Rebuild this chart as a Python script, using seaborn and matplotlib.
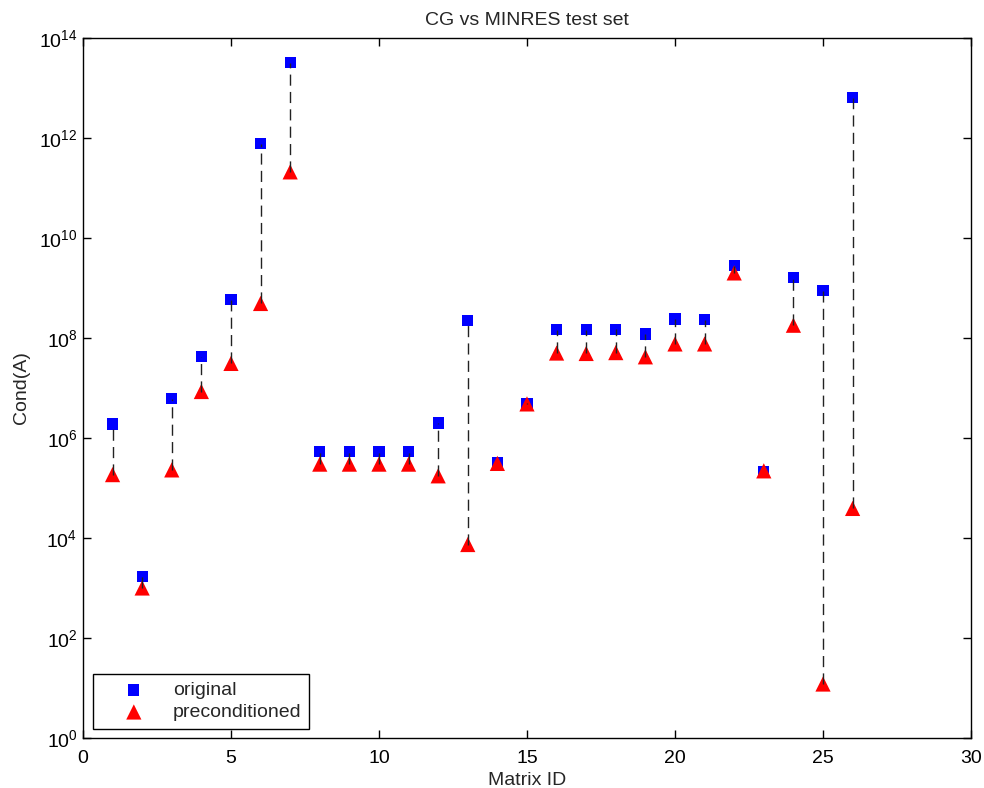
import numpy as np
import pandas as pd
import matplotlib
matplotlib.use("Agg")
import matplotlib.pyplot as plt
import seaborn as sns

matrix_id = list(range(1, 27))
original = [1.9e6, 1.7e3, 6.1e6, 4.2e7, 5.8e8, 7.7e11, 3.2e13, 5.3e5, 5.3e5, 5.3e5,
            5.3e5, 2.0e6, 2.2e8, 3.2e5, 4.9e6, 1.47e8, 1.47e8, 1.5e8, 1.2e8, 2.4e8,
            2.3e8, 2.8e9, 2.15e5, 1.6e9, 8.9e8, 6.4e12]
preconditioned = [1.85e5, 1.0e3, 2.3e5, 8.5e6, 3.1e7, 4.9e8, 2.1e11, 3.0e5, 3.0e5, 3.0e5,
                  3.0e5, 1.75e5, 7.4e3, 3.1e5, 4.8e6, 5.0e7, 4.9e7, 5.1e7, 4.2e7, 7.6e7,
                  7.6e7, 2.0e9, 2.2e5, 1.8e8, 12.0, 3.9e4]
ytick_exponents = list(range(0, 15, 2))
xticks = list(range(0, 31, 5))

df = pd.DataFrame({"id": matrix_id, "original": original, "preconditioned": preconditioned})

sns.set_style("ticks")
plt.rcParams["font.family"] = ["Liberation Sans", "DejaVu Sans"]
plt.rcParams["mathtext.default"] = "regular"

fig = plt.figure(figsize=(9.84, 7.88), dpi=100)
ax = fig.add_axes([0.0843, 0.0635, 0.9025, 0.8883])

ax.vlines(df["id"], df["preconditioned"], df["original"], colors="#222222",
          linestyles=(0, (8, 4.5)), linewidth=1.0, zorder=3)
sns.scatterplot(data=df, x="id", y="original", marker="s", s=65, color="#0000ff",
                edgecolor="none", ax=ax, label="original", zorder=2)
sns.scatterplot(data=df, x="id", y="preconditioned", marker="^", s=120, color="#ff0000",
                edgecolor="none", ax=ax, label="preconditioned", zorder=2)

ax.set_yscale("log")
ax.set_ylim(1, 1e14)
ax.set_xlim(0, 30)
ax.set_xticks(xticks)
ax.set_yticks([10.0 ** k for k in ytick_exponents])
ax.yaxis.set_minor_locator(matplotlib.ticker.NullLocator())
ax.set_yticklabels([f"$10^{{{k}}}$" for k in ytick_exponents])
ax.tick_params(direction="in", top=True, right=True, length=6, width=1,
               labelsize=14, colors="black")
ax.tick_params(axis="x", pad=9)
ax.tick_params(axis="y", pad=4)
for sp in ax.spines.values():
    sp.set_linewidth(1.0)
    sp.set_color("black")
    sp.set_visible(True)

ax.set_xlabel("Matrix ID", fontsize=14, labelpad=3)
ax.set_ylabel("Cond(A)", fontsize=14, labelpad=6)
ax.set_title("CG vs MINRES test set", fontsize=14, pad=9)

leg = ax.legend(loc="lower left", bbox_to_anchor=(0.0113, 0.013), borderaxespad=0,
                fontsize=14, frameon=True, fancybox=False, edgecolor="black",
                framealpha=1, handletextpad=0.3, borderpad=0.4, labelspacing=0.22,
                handlelength=3.4)
leg.get_frame().set_linewidth(1.0)

fig.savefig("out.png", dpi=100)
